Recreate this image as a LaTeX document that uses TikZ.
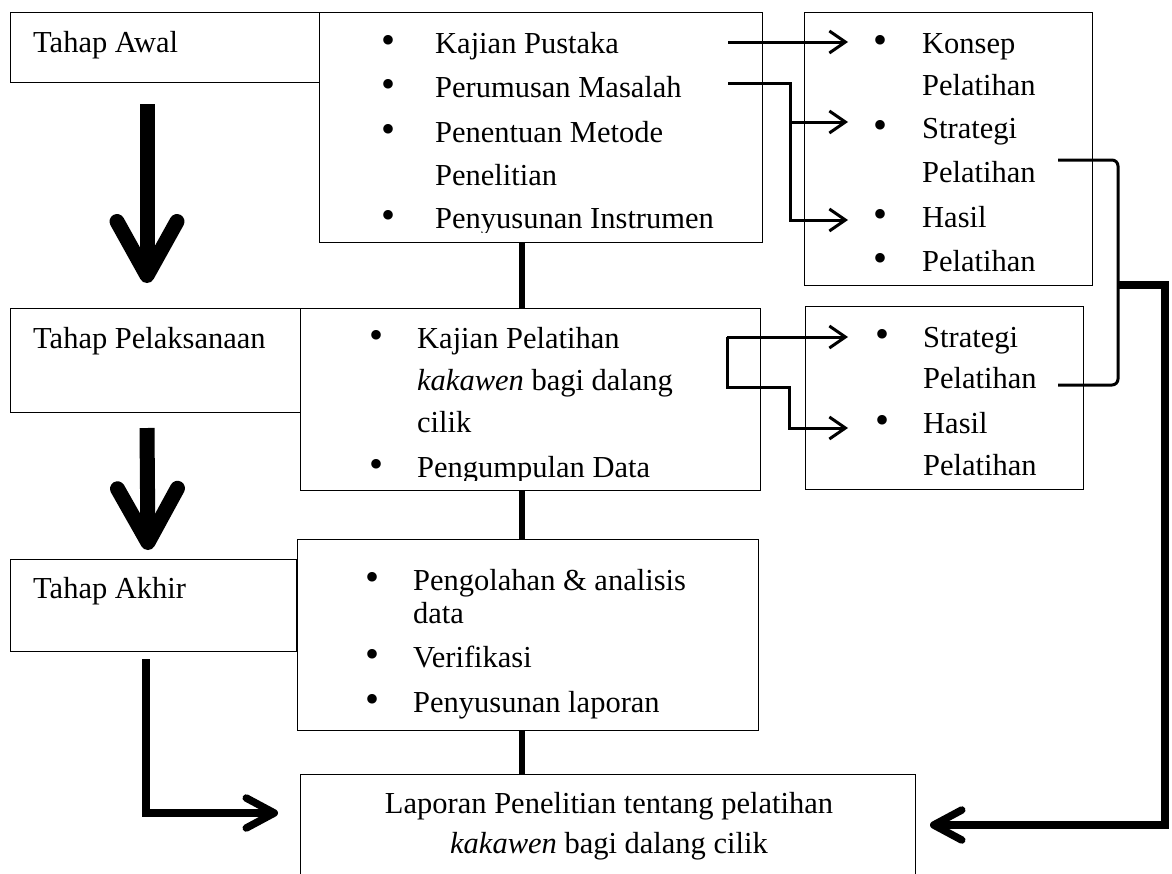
\documentclass[tikz,border=0pt]{standalone}
\usepackage{fontspec}
\setmainfont{Liberation Serif}
\usetikzlibrary{arrows.meta}
\begin{document}
\begin{tikzpicture}[x=1pt,y=-1pt,
  box/.style={draw, line width=1.3pt, inner sep=0pt, anchor=north west},
  txt/.style={anchor=base west, inner sep=0pt, font=\fontsize{30.5}{35}\selectfont},
  ctxt/.style={anchor=base, inner sep=0pt, font=\fontsize{30.5}{35}\selectfont},
  bul/.style={anchor=base, inner sep=0pt, font=\fontsize{40}{35}\selectfont},
  fatarrow/.style={line width=15pt, -{Straight Barb[length=54pt,width=60pt,round]}},
  thinarrow/.style={line width=3pt, -{Straight Barb[length=16pt,width=22pt]}},
  vconn/.style={line width=6pt},
  heavyarrow/.style={line width=7.5pt, -{Straight Barb[length=28pt,width=30pt,round]}},
  bracket/.style={line width=3pt, rounded corners=6pt},
]
\useasboundingbox (0,0) rectangle (1172,873);
\clip (0,0) rectangle (1172,873);

% boxes
\node[box, minimum width=309pt, minimum height=70pt]  (awal)  at (10,12) {};
\node[box, minimum width=443pt, minimum height=230pt] (m1)    at (319,12) {};
\node[box, minimum width=288pt, minimum height=273pt] (r1)    at (804,12) {};
\node[box, minimum width=290pt, minimum height=104pt] (pel)   at (10,308) {};
\node[box, minimum width=460pt, minimum height=182pt] (m2)    at (300,308) {};
\node[box, minimum width=278pt, minimum height=183pt] (r2)    at (805,306) {};
\node[box, minimum width=286pt, minimum height=92pt]  (akhir) at (10,559) {};
\node[box, minimum width=461pt, minimum height=191pt] (m3)    at (297,539) {};
\node[box, minimum width=615pt, minimum height=130pt] (lap)   at (300,774) {};

% left labels
\node[txt] (tawal) at (33,52) {Tahap Awal};
\node[txt] (tpel) at (33,348) {Tahap Pelaksanaan};
\node[txt] (takhir) at (33,598) {Tahap Akhir};

% box m1
\node[bul] (b11) at (388,53) {•};
\node[bul] (b12) at (388,97) {•};
\node[bul] (b13) at (388,142) {•};
\node[bul] (b14) at (388,228) {•};
\node[txt] (t11) at (435,53) {Kajian Pustaka};
\node[txt] (t12) at (435,97) {Perumusan Masalah};
\node[txt] (t13) at (435,142) {Penentuan Metode};
\node[txt] (t14) at (435,185) {Penelitian};
\begin{scope}
\clip (319,150) rectangle (762,232);
\node[txt] (t15) at (435,228) {Penyusunan Instrumen};
\end{scope}

% box r1
\node[bul] (b21) at (880,53) {•};
\node[bul] (b22) at (880,138) {•};
\node[bul] (b23) at (880,227) {•};
\node[bul] (b24) at (880,271) {•};
\node[txt] (t21) at (922,53) {Konsep};
\node[txt] (t22) at (922,95) {Pelatihan};
\node[txt] (t23) at (922,138) {Strategi};
\node[txt] (t24) at (922,182) {Pelatihan};
\node[txt] (t25) at (922,227) {Hasil};
\node[txt] (t26) at (922,271) {Pelatihan};

% box m2
\node[bul] (b31) at (376,348) {•};
\node[bul] (b32) at (376,477) {•};
\node[txt] (t31) at (417,348) {Kajian Pelatihan};
\node[txt] (t32) at (417,390) {\textit{kakawen} bagi dalang};
\node[txt] (t33) at (417,432) {cilik};
\begin{scope}
\clip (300,440) rectangle (760,480);
\node[txt] (t34) at (417,477) {Pengumpulan Data};
\end{scope}

% box r2
\node[bul] (b41) at (882,347) {•};
\node[bul] (b42) at (882,433) {•};
\node[txt] (t41) at (923,347) {Strategi};
\node[txt] (t42) at (923,388) {Pelatihan};
\node[txt] (t43) at (923,433) {Hasil};
\node[txt] (t44) at (923,475) {Pelatihan};

% box m3
\node[bul] (b51) at (372,590) {•};
\node[bul] (b52) at (372,667) {•};
\node[bul] (b53) at (372,712) {•};
\node[txt] (t51) at (413,590) {Pengolahan \& analisis};
\node[txt] (t52) at (413,623) {data};
\node[txt] (t53) at (413,667) {Verifikasi};
\node[txt] (t54) at (413,712) {Penyusunan laporan};

% bottom box
\node[ctxt] (t61) at (609,813) {Laporan Penelitian tentang pelatihan};
\node[ctxt] (t62) at (609,853) {\textit{kakawen} bagi dalang cilik};

% coordinates for free connector ends
\coordinate (vx) at (522,0);
\coordinate (f1s) at (147,104);
\coordinate (f1e) at (147,283);
\coordinate (f2s) at (147,428);
\coordinate (f2e) at (148,550);
\coordinate (l0) at (146,659);
\coordinate (l1) at (278,813);
\coordinate (ta0) at (728,42);
\coordinate (ta1) at (848,42);
\coordinate (tb0) at (728,83);
\coordinate (tbm) at (790,122);
\coordinate (tb3) at (848,122);
\coordinate (tbc) at (790,220);
\coordinate (tb2) at (848,220);
\coordinate (tc0) at (727,337);
\coordinate (tc1) at (848,337);
\coordinate (tcm) at (789,387);
\coordinate (tc2) at (848,428);
\coordinate (k0) at (1058,160);
\coordinate (kc) at (1118,385);
\coordinate (k1) at (1058,385);
\coordinate (bk) at (1118,285);
\coordinate (rc) at (1165,825);
\coordinate (bt) at (930,825);

% vertical connectors between middle boxes
\draw[vconn] (m1.south -| vx) -- (m2.north -| vx);
\draw[vconn] (m2.south -| vx) -- (m3.north -| vx);
\draw[vconn] (m3.south -| vx) -- (lap.north -| vx);

% fat arrows
\draw[fatarrow] (f1s) -- (f1e);
\draw[fatarrow] (f2s) -- (f2e);

% L arrow from Tahap Akhir
\draw[heavyarrow] (l0) |- (l1);

% thin arrows
\draw[thinarrow] (ta0) -- (ta1);
\draw[thinarrow] (tb0) -| (tbc) -- (tb2);
\draw[thinarrow] (tbm) -- (tb3);
\draw[thinarrow] (tc0) -- (tc1);
\draw[thinarrow] (tc0) |- (tcm) |- (tc2);

% bracket and long arrow
\draw[bracket] (k0) -| (kc) -- (k1);
\draw[heavyarrow] (bk) -| (rc) -- (bt);
\end{tikzpicture}
\end{document}
